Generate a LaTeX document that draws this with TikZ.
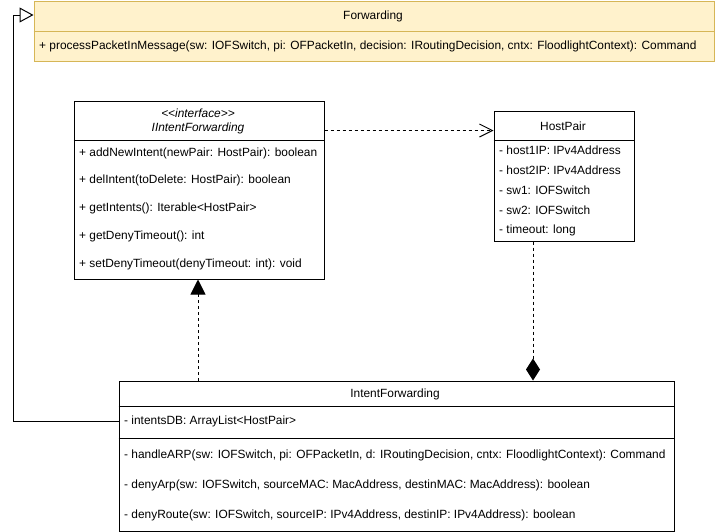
\documentclass[tikz,border=0pt]{standalone}
\usepackage{fontspec}
\setmainfont{Liberation Sans}
\usetikzlibrary{arrows.meta}
\definecolor{fwdf}{HTML}{FFF2CC}
\definecolor{fwdb}{HTML}{D6B656}
\begin{document}
\begin{tikzpicture}[x=1pt,y=-1pt,
  box/.style={draw=black, line width=1pt, inner sep=0pt, anchor=north west, fill=white},
  txt/.style={anchor=west, inner sep=0pt, font=\fontsize{11.9}{14}\selectfont},
  ttl/.style={inner sep=0pt, font=\fontsize{11.9}{14}\selectfont},
  sep/.style={draw=black, line width=1pt},
  conn/.style={draw=black, line width=1pt},
  dep/.style={conn, dash pattern=on 3pt off 3pt}]
\useasboundingbox (0,0) rectangle (715,531);

% Forwarding
\node[box, draw=fwdb, fill=fwdf, minimum width=680pt, minimum height=60pt] (fw) at (33.5,0.5) {};
\draw[sep, draw=fwdb] ([yshift=-30.5pt]fw.north west) -- ([yshift=-30.5pt]fw.north east);
\node[ttl] (fwt) at (373,16) {Forwarding};
\node[txt] (fwm) at (39,46) {+ processPacketInMessage(sw: IOFSwitch, pi: OFPacketIn, decision: IRoutingDecision, cntx: FloodlightContext): Command};

% IIntentForwarding
\node[box, minimum width=250pt, minimum height=178pt] (ii) at (73.5,100.5) {};
\draw[sep] ([yshift=-40pt]ii.north west) -- ([yshift=-40pt]ii.north east);
\node[ttl, font=\fontsize{11.9}{14}\selectfont\itshape] (iis) at (198,113) {<\kern0pt<interface>\kern0pt>};
\node[ttl, font=\fontsize{11.9}{14}\selectfont\itshape] (iit) at (198,128) {IIntentForwarding};
\node[txt] (ii1) at (79,153.5) {+ addNewIntent(newPair: HostPair): boolean};
\node[txt] (ii2) at (79,180.5) {+ delIntent(toDelete: HostPair): boolean};
\node[txt] (ii3) at (79,208) {+ getIntents(): Iterable<HostPair>};
\node[txt] (ii4) at (79,236) {+ getDenyTimeout(): int};
\node[txt] (ii5) at (79,264) {+ setDenyTimeout(denyTimeout: int): void};

% HostPair
\node[box, minimum width=140pt, minimum height=130pt] (hp) at (493.5,110.5) {};
\draw[sep] ([yshift=-30pt]hp.north west) -- ([yshift=-30pt]hp.north east);
\node[ttl] (hpt) at (563,126) {HostPair};
\node[txt] (hp1) at (499,150.5) {- host1IP: IPv4Address};
\node[txt] (hp2) at (499,170.5) {- host2IP: IPv4Address};
\node[txt] (hp3) at (499,190.5) {- sw1: IOFSwitch};
\node[txt] (hp4) at (499,210.5) {- sw2: IOFSwitch};
\node[txt] (hp5) at (499,230.5) {- timeout: long};

% IntentForwarding
\node[box, minimum width=555pt, minimum height=150pt] (inf) at (118.5,380.5) {};
\draw[sep] ([yshift=-26pt]inf.north west) -- ([yshift=-26pt]inf.north east);
\draw[sep] ([yshift=-58pt]inf.north west) -- ([yshift=-58pt]inf.north east);
\node[ttl] (inft) at (395,394) {IntentForwarding};
\node[txt] (inf1) at (124,421.5) {- intentsDB: ArrayList<HostPair>};
\node[txt] (inf2) at (124,455.5) {- handleARP(sw: IOFSwitch, pi: OFPacketIn, d: IRoutingDecision, cntx: FloodlightContext): Command};
\node[txt] (inf3) at (124,485.5) {- denyArp(sw: IOFSwitch, sourceMAC: MacAddress, destinMAC: MacAddress): boolean};
\node[txt] (inf4) at (124,515.5) {- denyRoute(sw: IOFSwitch, sourceIP: IPv4Address, destinIP: IPv4Address): boolean};

% connectors
\draw[dep, -{Straight Barb[length=13pt,width=13pt]}] ([yshift=-30pt]ii.north east) -- ([yshift=-20pt]hp.north west);
\draw[dep, -{Triangle[length=15pt,width=15pt]}] ([xshift=79.5pt]inf.north west) -- ([xshift=124.5pt]ii.south west);
\draw[dep, -{Diamond[length=22pt,width=14pt]}] ([xshift=39.5pt]hp.south west) -- ([xshift=414.5pt]inf.north west);
\coordinate (gs) at ([yshift=-40.5pt]inf.north west);
\coordinate (ge) at ([yshift=-14.5pt]fw.north west);
\coordinate (gx) at (13.5,0);
\draw[conn, -{Triangle[open,length=14pt,width=15pt]}] (gs) -- (gs -| gx) |- (ge);
\end{tikzpicture}
\end{document}
